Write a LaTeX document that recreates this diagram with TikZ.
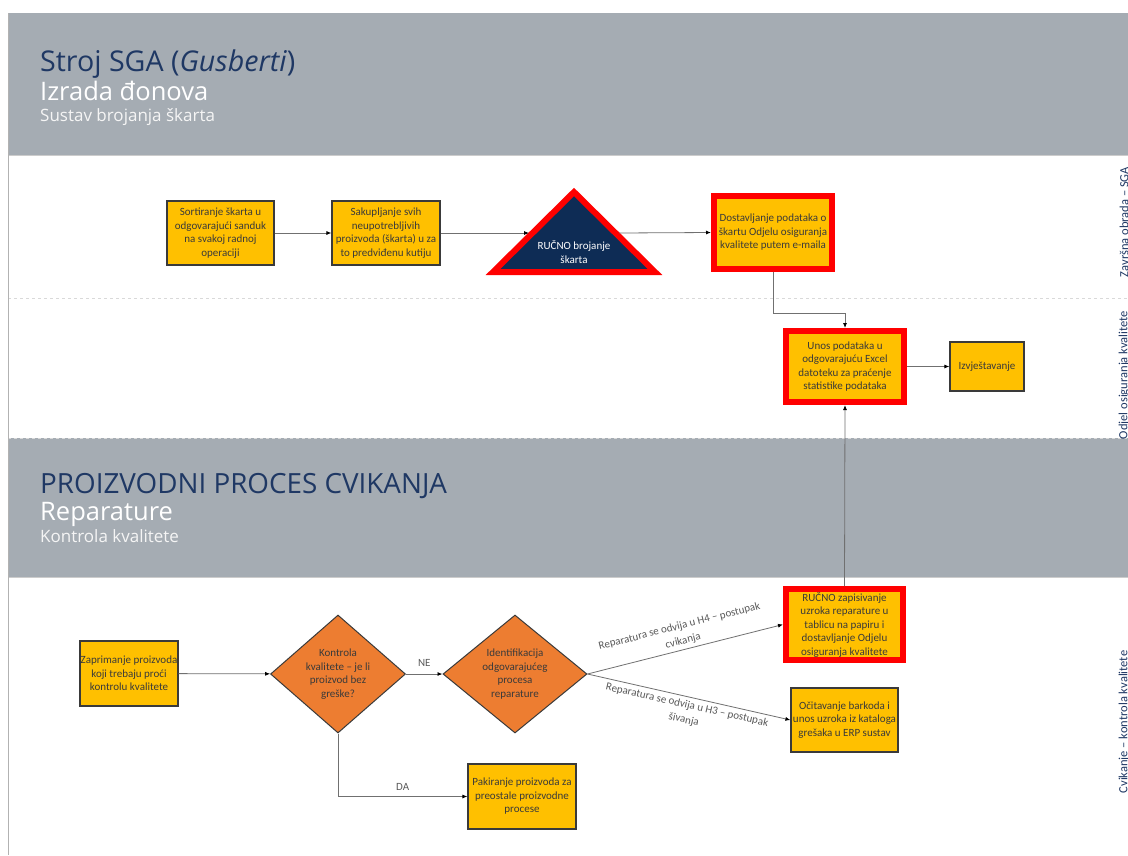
\documentclass[tikz,border=0pt]{standalone}
\usepackage{fontspec}
\setmainfont{Carlito}
\newfontfamily\titlefont{Open Sans}
\usetikzlibrary{arrows.meta,shapes.geometric}
\definecolor{hdrgray}{HTML}{A5ACB3}
\definecolor{navy}{HTML}{1F3864}
\definecolor{trinavy}{HTML}{0E2C55}
\definecolor{boxyellow}{HTML}{FFC000}
\definecolor{dorange}{HTML}{ED7D31}
\definecolor{boxtext}{HTML}{3A3A3A}
\definecolor{lblgray}{HTML}{595959}
\definecolor{linegray}{HTML}{707070}
\tikzset{
  box/.style={rectangle, draw=boxtext, line width=1.2pt, fill=boxyellow, text=boxtext,
    font=\fontsize{11}{13.5}\selectfont, align=center, inner sep=-6pt},
  redbox/.style={rectangle, draw=red, line width=6pt, fill=boxyellow, text=boxtext,
    font=\fontsize{11}{13.5}\selectfont, align=center, inner sep=-6pt},
  decision/.style={diamond, draw=boxtext, line width=1pt, fill=dorange, inner sep=0pt},
  dtext/.style={text=boxtext, font=\fontsize{11}{13.5}\selectfont, align=center, inner sep=0pt},
  arr/.style={draw=linegray, line width=0.8pt, -{Latex[length=5pt,width=4pt,color=black]}},
  elabel/.style={text=lblgray, font=\fontsize{11}{15}\selectfont, align=center},
  lanelabel/.style={text=navy, font=\fontsize{12.5}{14}\selectfont, rotate=90},
}
\begin{document}
\begin{tikzpicture}[x=1pt,y=-1pt]
\clip (0,0) rectangle (1128,855);
\fill[white] (0,0) rectangle (1128,855);
% headers
\fill[hdrgray] (8,13) rectangle (1128,155);
\draw[gray!40, line width=1pt] (8,155) -- (1128,155);
\fill[hdrgray] (8,438) rectangle (1128,577);
\draw[gray!40, line width=1pt] (8,577) -- (1128,577);
\draw[gray!30, dashed, line width=0.8pt] (8,298) -- (1128,298);
\draw[gray!30, dashed, line width=0.8pt] (8,438) -- (1128,438);
\draw[gray!60, line width=0.8pt] (8,13) -- (8,855);
% header texts
\node[anchor=base west, inner sep=0, text=navy, font=\titlefont\fontsize{28.6}{31}\selectfont] (t1) at (40,71) {Stroj SGA (\textit{Gusberti})};
\node[anchor=base west, inner sep=0, text=white, font=\titlefont\fontsize{25.5}{28}\selectfont] (t2) at (40,100) {Izrada đonova};
\node[anchor=base west, inner sep=0, text=white!92!gray, font=\titlefont\fontsize{17}{20}\selectfont] (t3) at (40,121) {Sustav brojanja škarta};
\node[anchor=base west, inner sep=0, text=navy, font=\titlefont\fontsize{27.8}{30}\selectfont] (t4) at (40,493) {PROIZVODNI PROCES CVIKANJA};
\node[anchor=base west, inner sep=0, text=white, font=\titlefont\fontsize{25.5}{28}\selectfont] (t5) at (40,520) {Reparature};
\node[anchor=base west, inner sep=0, text=white!92!gray, font=\titlefont\fontsize{17}{20}\selectfont] (t6) at (40,542) {Kontrola kvalitete};
% lane labels
\node[lanelabel] (l1) at (1124,222) {Završna obrada – SGA};
\node[lanelabel] (l2) at (1124,375) {Odjel osiguranja kvalitete};
\node[lanelabel] (l3) at (1124,722) {Cvikanje – kontrola kvalitete};
% lane 1
\node[box, minimum width=107, minimum height=64] (sort) at (220.5,233) {Sortiranje škarta u\\odgovarajući sanduk\\na svakoj radnoj\\operaciji};
\node[box, minimum width=108, minimum height=64] (sak) at (386,233) {Sakupljanje svih\\neupotrebljivih\\proizvoda (škarta) u za\\to predviđenu kutiju};
\draw[red, line width=6pt, fill=trinavy, line join=miter] (574,192) -- (655,272) -- (493,272) -- cycle;
\node[text=white, font=\fontsize{11}{13.5}\selectfont, align=center] (tri) at (574,252) {RUČNO brojanje\\škarta};
\coordinate (triW) at (529,233);
\coordinate (triE) at (619,233);
\node[redbox, minimum width=118, minimum height=73] (dost) at (773,232.5) {Dostavljanje podataka o\\škartu Odjelu osiguranja\\kvalitete putem e-maila};
% lane 2
\node[redbox, minimum width=118, minimum height=71] (unos) at (845,366.5) {Unos podataka u\\odgovarajuću Excel\\datoteku za praćenje\\statistike podataka};
\node[box, minimum width=74, minimum height=49] (izv) at (987,366.5) {Izvještavanje};
% lane 3
\node[box, minimum width=98, minimum height=65] (zap) at (129,673.5) {Zaprimanje proizvoda\\koji trebaju proći\\kontrolu kvalitete};
\node[decision, minimum width=135, minimum height=118] (kon) at (338,674) {};
\node[dtext] (kont) at (kon.center) {Kontrola\\kvalitete – je li\\proizvod bez\\greške?};
\node[decision, minimum width=144, minimum height=118] (ide) at (515,674) {};
\node[dtext] (idet) at (ide.center) {Identifikacija\\odgovarajućeg\\procesa\\reparature};
\node[redbox, minimum width=117, minimum height=71] (ruc) at (844.5,624.5) {RUČNO zapisivanje\\uzroka reparature u\\tablicu na papiru i\\dostavljanje Odjelu\\osiguranja kvalitete};
\node[box, minimum width=107, minimum height=64] (oci) at (844.5,720) {Očitavanje barkoda i\\unos uzroka iz kataloga\\grešaka u ERP sustav};
\node[box, minimum width=108, minimum height=65] (pak) at (522,796.5) {Pakiranje proizvoda za\\preostale proizvodne\\procese};
% connectors
\draw[arr] (sort) -- (sak);
\draw[arr] (sak.east) -- (triW);
\draw[arr] (triE) -- (dost.west);
\draw[arr] (dost.south) -- ++(0,41) -| (unos.north);
\draw[arr] (unos) -- (izv);
\draw[arr] (ruc.north) -- (unos.south);
\draw[arr] (zap) -- (kon);
\draw[arr] (kon.east) -- node[elabel, above=4pt] {NE} (ide.west);
\draw[arr] (ide.east) -- node[elabel, midway, sloped, above] {Reparatura se odvija u H4 – postupak\\cvikanja} (ruc.west);
\draw[arr] (ide.east) -- node[elabel, midway, sloped, below] {Reparatura se odvija u H3 – postupak\\šivanja} (oci.west);
\draw[arr] (kon.south) |- node[elabel, pos=0.75, above=2pt] {DA} (pak.west);
\end{tikzpicture}
\end{document}
